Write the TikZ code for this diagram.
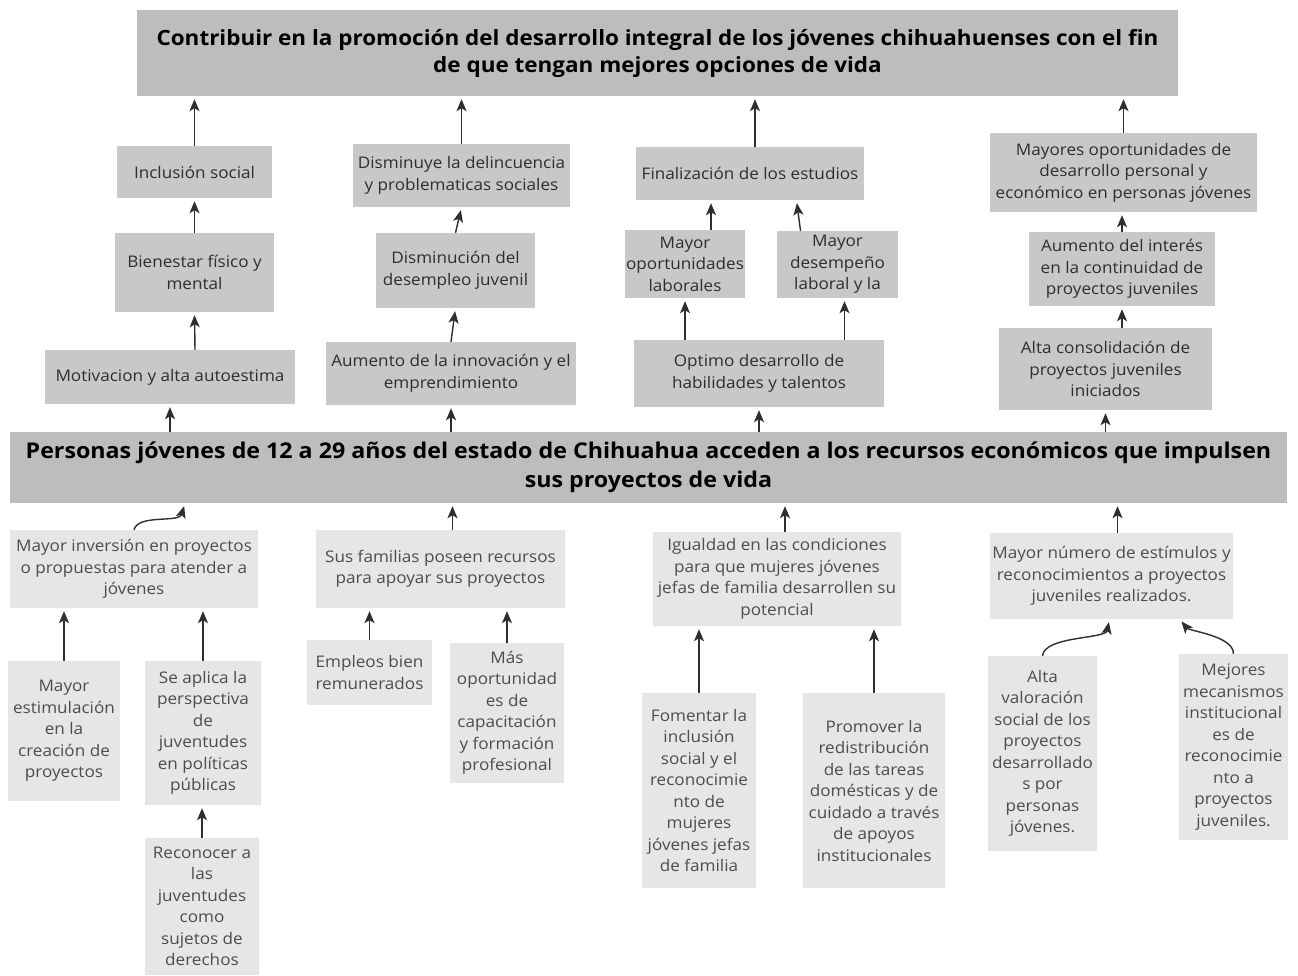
\documentclass[tikz,border=0pt]{standalone}
\usepackage{fontspec}
\setmainfont{Open Sans}[FakeStretch=1.07]
\usetikzlibrary{arrows.meta,positioning,calc}
\definecolor{ink}{HTML}{2E2E2E}
\definecolor{headgray}{HTML}{BDBDBD}
\definecolor{effgray}{HTML}{C8C8C8}
\definecolor{causegray}{HTML}{E6E6E6}

\begin{document}
\begin{tikzpicture}[x=1pt,y=-1pt,
  head/.style={fill=headgray,text=black,align=center,inner sep=0pt,font=\bfseries\fontsize{21}{27}\selectfont},
  effect/.style={fill=effgray,text=ink,align=center,inner sep=0pt,font=\fontsize{16}{21.5}\selectfont},
  cause/.style={fill=causegray,text=ink!85,align=center,inner sep=0pt,font=\fontsize{16}{21.5}\selectfont},
  link/.style={draw=ink,line width=1.4pt,shorten >=3pt,-{Stealth[length=12pt,width=10pt,inset=3pt]}}]
\useasboundingbox[fill=white] (0,0) rectangle (1298,975);
% fin and proposito
\node[head,minimum width=1041pt,minimum height=86pt] (fin) at (657.5,53)
  {Contribuir en la promoción del desarrollo integral de los jóvenes chihuahuenses con el fin\\de que tengan mejores opciones de vida};
\node[head,font=\bfseries\fontsize{21.7}{29}\selectfont,minimum width=1277pt,minimum height=71pt] (prop) at (648.5,467.5)
  {Personas jóvenes de 12 a 29 años del estado de Chihuahua acceden a los recursos económicos que impulsen\\sus proyectos de vida};
% efectos
\node[effect,minimum width=155pt,minimum height=52pt] (incl) at (194.5,172) {Inclusión social};
\node[effect,minimum width=159pt,minimum height=79pt] (bienestar) at (194.5,272.5) {Bienestar físico y\\mental};
\node[effect,minimum width=250pt,minimum height=54pt] (motiv) at (170,377) {Motivacion y alta autoestima};
\node[effect,minimum width=217pt,minimum height=63pt] (delinc) at (461.5,175.5) {Disminuye la delincuencia\\y problematicas sociales};
\node[effect,minimum width=159pt,minimum height=75pt] (desemp) at (455.5,270.5) {Disminución del\\desempleo juvenil};
\node[effect,minimum width=250pt,minimum height=63pt] (innov) at (451,373.5) {Aumento de la innovación y el\\emprendimiento};
\node[effect,minimum width=228pt,minimum height=53pt] (estudios) at (750,173.5) {Finalización de los estudios};
\node[effect,minimum width=120pt,minimum height=68pt] (oplab) at (685,264) {Mayor\\oportunidades\\laborales};
\node[effect,minimum width=121pt,minimum height=67pt] (deslab) at (837.5,264.5) {Mayor\\desempeño\\laboral y la};
\node[effect,minimum width=250pt,minimum height=67pt] (habil) at (759,373.5) {Optimo desarrollo de\\habilidades y talentos};
\node[effect,minimum width=267pt,minimum height=79pt] (oport) at (1123.5,172.5) {Mayores oportunidades de\\desarrollo personal y\\económico en personas jóvenes};
\node[effect,minimum width=186pt,minimum height=74pt] (interes) at (1122,269) {Aumento del interés\\en la continuidad de\\proyectos juveniles};
\node[effect,minimum width=213pt,minimum height=82pt] (consol) at (1105.5,369) {Alta consolidación de\\proyectos juveniles\\iniciados};
% causas
\node[cause,minimum width=248pt,minimum height=78pt] (inversion) at (134,569) {Mayor inversión en proyectos\\o propuestas para atender a\\jóvenes};
\node[cause,minimum width=249pt,minimum height=78pt] (familias) at (440.5,569) {Sus familias poseen recursos\\para apoyar sus proyectos};
\node[cause,minimum width=248pt,minimum height=94pt] (igualdad) at (777,579) {Igualdad en las condiciones\\para que mujeres jóvenes\\jefas de familia desarrollen su\\potencial};
\node[cause,minimum width=243pt,minimum height=86pt] (estimulos) at (1111.5,576) {Mayor número de estímulos y\\reconocimientos a proyectos\\juveniles realizados.};
\node[cause,minimum width=112pt,minimum height=140pt] (estimul) at (64,731) {Mayor\\estimulación\\en la\\creación de\\proyectos};
\node[cause,minimum width=116pt,minimum height=144pt] (persp) at (203,733) {Se aplica la\\perspectiva\\de\\juventudes\\en políticas\\públicas};
\node[cause,minimum width=114pt,minimum height=137pt] (reconocer) at (202,906.5) {Reconocer a\\las\\juventudes\\como\\sujetos de\\derechos};
\node[cause,minimum width=125pt,minimum height=65pt] (empleos) at (369.5,672.5) {Empleos bien\\remunerados};
\node[cause,minimum width=114pt,minimum height=140pt] (capac) at (507,713) {Más\\oportunidad\\es de\\capacitación\\y formación\\profesional};
\node[cause,minimum width=114pt,minimum height=195pt] (fomentar) at (699,790.5) {Fomentar la\\inclusión\\social y el\\reconocimie\\nto de\\mujeres\\jóvenes jefas\\de familia};
\node[cause,minimum width=142pt,minimum height=195pt] (promover) at (874,790.5) {Promover la\\redistribución\\de las tareas\\domésticas y de\\cuidado a través\\de apoyos\\institucionales};
\node[cause,minimum width=109pt,minimum height=195pt] (valor) at (1042.5,753.5) {Alta\\valoración\\social de los\\proyectos\\desarrollado\\s por\\personas\\jóvenes.};
\node[cause,minimum width=109pt,minimum height=186pt] (mecan) at (1233.5,747) {Mejores\\mecanismos\\institucional\\es de\\reconocimie\\nto a\\proyectos\\juveniles.};
% flechas de efectos
\draw[link] (motiv.south |- prop.north) -- (motiv.south);
\draw[link] ([xshift=25pt]motiv.north) -- (bienestar.south);
\draw[link] (bienestar.north) -- (incl.south);
\draw[link] (incl.north) -- (incl.north |- fin.south);
\draw[link] (innov.south |- prop.north) -- (innov.south);
\draw[link] (innov.north) -- (desemp.south);
\draw[link] (desemp.north) -- (delinc.south);
\draw[link] (delinc.north) -- (delinc.north |- fin.south);
\draw[link] (habil.south |- prop.north) -- (habil.south);
\draw[link] (oplab.south |- habil.north) -- (oplab.south);
\draw[link] ([xshift=7pt]deslab.south |- habil.north) -- ([xshift=7pt]deslab.south);
\draw[link] ([xshift=26pt]oplab.north) -- ([xshift=26pt]oplab.north |- estudios.south);
\draw[link] ([xshift=-37pt]deslab.north) -- ([xshift=-41pt]deslab.north |- estudios.south);
\draw[link] ([xshift=5pt]estudios.north) -- ([xshift=5pt]estudios.north |- fin.south);
\draw[link] (consol.south |- prop.north) -- (consol.south);
\draw[link] (interes.south |- consol.north) -- (interes.south);
\draw[link] (interes.north) -- (interes.north |- oport.south);
\draw[link] (oport.north) -- (oport.north |- fin.south);
% flechas de causas
\draw[link] (inversion.north) .. controls +(4,-16) and +(-6,20) .. ([xshift=51pt]inversion.north |- prop.south);
\draw[link] ([xshift=12pt]familias.north) -- ([xshift=12pt]familias.north |- prop.south);
\draw[link] ([xshift=8pt]igualdad.north) -- ([xshift=8pt]igualdad.north |- prop.south);
\draw[link] ([xshift=6pt]estimulos.north) -- ([xshift=6pt]estimulos.north |- prop.south);
\draw[link] (estimul.north) -- (estimul.north |- inversion.south);
\draw[link] (persp.north) -- (persp.north |- inversion.south);
\draw[link] (reconocer.north) -- (reconocer.north |- persp.south);
\draw[link] (empleos.north) -- (empleos.north |- familias.south);
\draw[link] (capac.north) -- (capac.north |- familias.south);
\draw[link] (fomentar.north) -- (fomentar.north |- igualdad.south);
\draw[link] (promover.north) -- (promover.north |- igualdad.south);
\draw[link] (valor.north) .. controls +(2,-20) and +(-4,20) .. ([xshift=-2pt]estimulos.south);
\draw[link] (mecan.north) .. controls +(0,-18) and +(10,12) .. ([xshift=68pt]estimulos.south);
\end{tikzpicture}
\end{document}
